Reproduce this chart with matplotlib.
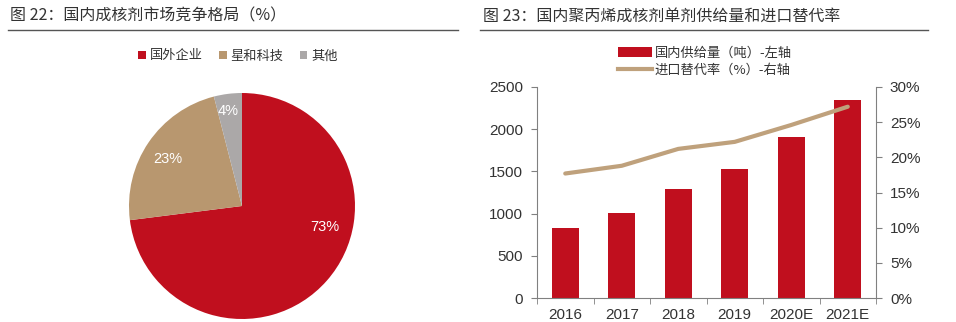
import matplotlib
matplotlib.use("Agg")
import matplotlib.pyplot as plt
from matplotlib.patches import Patch
from matplotlib.lines import Line2D
from matplotlib.ticker import FuncFormatter, MultipleLocator
import numpy as np

plt.rcParams['font.family'] = ['Noto Sans CJK SC', 'DejaVu Sans']

# Market share of nucleating agents
share_labels = ['国外企业', '星和科技', '其他']
share_values = [73, 23, 4]
share_colors = ['#C00F1E', '#B8976F', '#ABA8A8']

# Domestic supply and import substitution rate
years = ['2016', '2017', '2018', '2019', '2020E', '2021E']
supply = [830, 1010, 1290, 1530, 1910, 2350]
subst_rate = [17.7, 18.8, 21.2, 22.2, 24.6, 27.2]

RED = '#C00F1E'
TAN = '#BFA17C'
AXC = '#808080'
TXT = '#333333'
num_font = ['Liberation Sans', 'Noto Sans CJK SC']

fig = plt.figure(figsize=(9.56, 3.22), dpi=100)
W, H = 956, 322

def fx(px):
    return px / W

def fy(py):
    return 1 - py / H

# Section titles and rules
fig.text(fx(10), fy(16), '图 22：国内成核剂市场竞争格局（%）', fontsize=11.5,
         color=TXT, va='center', ha='left')
fig.text(fx(483), fy(16), '图 23：国内聚丙烯成核剂单剂供给量和进口替代率', fontsize=11.5,
         color=TXT, va='center', ha='left')
fig.add_artist(Line2D([fx(8), fx(458)], [fy(30), fy(30)], color='#555555', lw=1.0))
fig.add_artist(Line2D([fx(480), fx(928)], [fy(30), fy(30)], color='#555555', lw=1.0))

# Pie chart
r = 113
cx, cy = 242, 206
ax1 = fig.add_axes([fx(cx - r), fy(cy + r), fx(2 * r), (2 * r) / H])
wedges, texts, autotexts = ax1.pie(
    share_values, colors=share_colors, startangle=90, counterclock=False,
    autopct=lambda p: f'{p:.0f}%',
    textprops=dict(color='white', fontsize=10.5, family=num_font))
# percentage labels placed inside each wedge
label_pos = [(0.73, -0.19), (-0.66, 0.42), (-0.12, 0.84)]
for t, pos in zip(autotexts, label_pos):
    t.set_position(pos)
ax1.set_aspect('equal')
ax1.set_xlim(-1, 1)
ax1.set_ylim(-1, 1)

fig.legend(
    handles=[Patch(facecolor=c, label=l) for c, l in zip(share_colors, share_labels)],
    loc='center', bbox_to_anchor=(fx(238), fy(56)), ncol=3, frameon=False,
    fontsize=9.5, handlelength=0.6, handleheight=0.6, handletextpad=0.3,
    columnspacing=1.2, labelcolor=TXT)

# Bar + line chart
ax2 = fig.add_axes([fx(537), fy(298), fx(876 - 537), (298 - 87) / H])
x = np.arange(len(years))
ax2.bar(x, supply, width=0.47, color=RED, zorder=2)
ax2.set_xlim(-0.5, len(years) - 0.5)
ax2.set_ylim(0, 2500)
ax2.yaxis.set_major_locator(MultipleLocator(500))
ax2.set_xticks(x)
ax2.set_xticklabels(years)
ax2.set_xticks(np.arange(-0.5, len(years), 1), minor=True)
ax2.tick_params(axis='x', which='major', length=0, pad=7)
ax2.tick_params(axis='x', which='minor', length=4, color=AXC, direction='out')
ax2.tick_params(axis='y', length=4, color=AXC, direction='out', pad=6)
for s in ['top', 'right']:
    ax2.spines[s].set_visible(False)
for s in ['left', 'bottom']:
    ax2.spines[s].set_color(AXC)

ax3 = ax2.twinx()
ax3.plot(x, subst_rate, color=TAN, lw=3, solid_capstyle='round', zorder=3)
ax3.set_ylim(0, 30)
ax3.yaxis.set_major_locator(MultipleLocator(5))
ax3.yaxis.set_major_formatter(FuncFormatter(lambda v, p: f'{v:.0f}%'))
ax3.tick_params(axis='y', length=4, color=AXC, direction='out', pad=6)
for s in ['top', 'left', 'bottom']:
    ax3.spines[s].set_visible(False)
ax3.spines['right'].set_color(AXC)

for a in (ax2, ax3):
    for lab in a.get_xticklabels() + a.get_yticklabels():
        lab.set_fontfamily(num_font)
        lab.set_fontsize(11)
        lab.set_color(TXT)

fig.legend(
    handles=[Patch(facecolor=RED, label='国内供给量（吨）-左轴'),
             Line2D([0], [0], color=TAN, lw=3, label='进口替代率（%）-右轴')],
    loc='center', bbox_to_anchor=(fx(705), fy(62)), ncol=1, frameon=False,
    fontsize=9.5, handlelength=2.6, handleheight=0.8, handletextpad=0.2,
    labelspacing=0.3, labelcolor=TXT)

fig.savefig('out.png', dpi=100, facecolor='white')
